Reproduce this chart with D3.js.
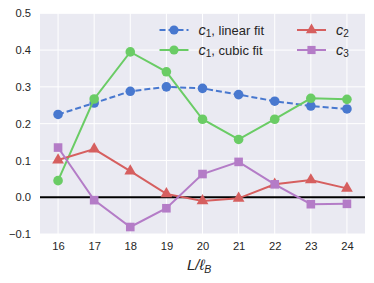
<!DOCTYPE html>
<html><head><meta charset="utf-8">
<script src="https://cdn.jsdelivr.net/npm/d3@7"></script>
<style>body{margin:0;background:#fff}svg{display:block}text{font-family:"Liberation Sans",Arial,sans-serif}</style>
</head><body><svg id="c" width="374" height="283"></svg>
<script>
const xs = [16,17,18,19,20,21,22,23,24];
const c1Linear = [0.225,0.256,0.288,0.300,0.296,0.279,0.261,0.248,0.240];
const c1Cubic = [0.045,0.267,0.395,0.341,0.212,0.157,0.212,0.269,0.266];
const c2 = [0.101,0.131,0.071,0.009,-0.010,-0.003,0.035,0.047,0.024];
const c3 = [0.135,-0.008,-0.081,-0.030,0.063,0.096,0.035,-0.019,-0.018];
const yTicks = [-0.1,0.0,0.1,0.2,0.3,0.4,0.5];
const xTicks = [16,17,18,19,20,21,22,23,24];

const svg = d3.select("#c");
const L=40,R=365,T=13.3,B=234;
const x = d3.scaleLinear().domain([15.5,24.5]).range([L,R]);
const y = d3.scaleLinear().domain([-0.1,0.5]).range([B,T]);

svg.append("rect").attr("x",L).attr("y",T).attr("width",R-L).attr("height",B-T).attr("fill","#EAEAF2");
const g = svg.append("g");
g.selectAll(".gx").data(xTicks).enter().append("line")
 .attr("x1",d=>x(d)).attr("x2",d=>x(d)).attr("y1",T).attr("y2",B).attr("stroke","#fff").attr("stroke-width",1);
g.selectAll(".gy").data(yTicks).enter().append("line")
 .attr("y1",d=>y(d)).attr("y2",d=>y(d)).attr("x1",L).attr("x2",R).attr("stroke","#fff").attr("stroke-width",1);

const xa = svg.append("g").attr("transform",`translate(0,${B})`)
 .call(d3.axisBottom(x).tickValues(xTicks).tickSize(0).tickPadding(8).tickFormat(d3.format("d")));
const ya = svg.append("g").attr("transform",`translate(${L},0)`)
 .call(d3.axisLeft(y).tickValues(yTicks).tickSize(0).tickPadding(9).tickFormat(d=>d3.format(".1f")(d).replace("-","\u2212")));
[xa,ya].forEach(a=>{a.select(".domain").remove();a.selectAll("text").attr("font-size",11.2).attr("fill","#262626").attr("font-family","'Liberation Sans',Arial,sans-serif");});

svg.append("line").attr("x1",L).attr("x2",R).attr("y1",y(0)).attr("y2",y(0)).attr("stroke","#000").attr("stroke-width",2);

const series = [
 {v:c1Linear,c:"#4878CF",m:"circle",dash:"6,3"},
 {v:c1Cubic,c:"#6ACC65",m:"circle",dash:null},
 {v:c2,c:"#D65F5F",m:"triangle",dash:null},
 {v:c3,c:"#B47CC7",m:"square",dash:null}
];
const line = d3.line().x((d,i)=>x(xs[i])).y(d=>y(d));
function marker(sel,m,c,k){
  k=k||1;
  if(m==="circle") sel.append("circle").attr("r",4.8*k).attr("fill",c);
  else if(m==="square") sel.append("rect").attr("x",-4.3*k).attr("y",-4.3*k).attr("width",8.6*k).attr("height",8.6*k).attr("fill",c);
  else sel.append("path").attr("d",d3.symbol(d3.symbolTriangle,60*k*k)()).attr("fill",c);
}
series.forEach(s=>{
  svg.append("path").attr("d",line(s.v)).attr("fill","none").attr("stroke",s.c).attr("stroke-width",2)
   .attr("stroke-dasharray",s.dash);
  s.v.forEach((d,i)=>{
    const gg = svg.append("g").attr("transform",`translate(${x(xs[i])},${y(d)})`);
    marker(gg,s.m,s.c);
  });
});

const leg = [
 {s:series[0],x0:159.5,y0:30,lab:[["c","i"],["1","sub"],[", linear fit","n"]]},
 {s:series[1],x0:159.5,y0:50,lab:[["c","i"],["1","sub"],[", cubic fit","n"]]},
 {s:series[2],x0:297,y0:30,lab:[["c","i"],["2","sub"]]},
 {s:series[3],x0:297,y0:50,lab:[["c","i"],["3","sub"]]}
];
leg.forEach(l=>{
  svg.append("line").attr("x1",l.x0).attr("x2",l.x0+29).attr("y1",l.y0).attr("y2",l.y0)
   .attr("stroke",l.s.c).attr("stroke-width",2).attr("stroke-dasharray",l.s.dash);
  marker(svg.append("g").attr("transform",`translate(${l.x0+14.5},${l.y0})`),l.s.m,l.s.c,0.95);
  const t = svg.append("text").attr("x",l.x0+39).attr("y",l.y0+4.5).attr("font-size",13).attr("fill","#262626");
  l.lab.forEach(p=>{
    const ts=t.append("tspan").text(p[0]);
    if(p[1]==="i") ts.attr("font-style","italic").attr("font-size",14.5);
    if(p[1]==="sub") ts.attr("font-size",10).attr("dy",2.5);
    if(p[1]==="n") ts.attr("dy",-2.5);
  });
});

const xl = svg.append("text").attr("x",187).attr("y",270).attr("font-size",15).attr("fill","#262626").attr("font-style","italic");
xl.append("tspan").text("L/\u2113");
xl.append("tspan").text("B").attr("font-size",10.5).attr("dy",3);
</script></body></html>
